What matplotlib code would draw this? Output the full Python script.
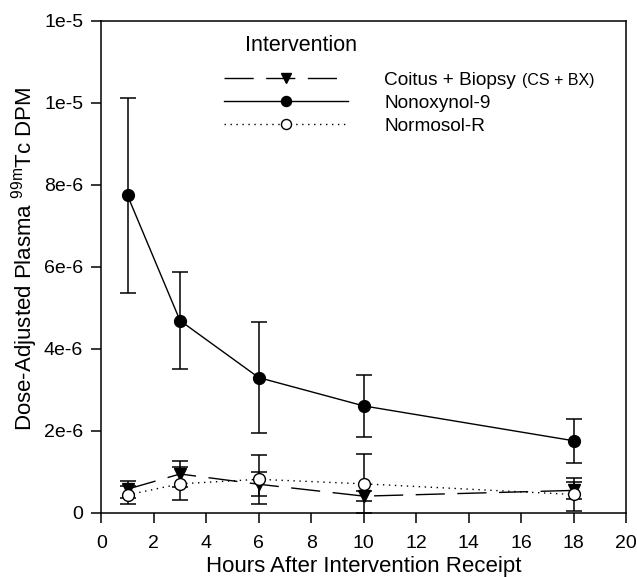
import matplotlib
matplotlib.use("Agg")
import matplotlib.pyplot as plt

plt.rcParams["font.family"] = ["Liberation Sans", "DejaVu Sans"]

# data
hours = [1, 3, 6, 10, 18]

cs_bx = [0.58e-6, 0.95e-6, 0.70e-6, 0.41e-6, 0.55e-6]
cs_bx_err = [0.21e-6, 0.32e-6, 0.29e-6, 0.13e-6, 0.20e-6]

n9 = [7.74e-6, 4.69e-6, 3.30e-6, 2.61e-6, 1.76e-6]
n9_err = [2.37e-6, 1.18e-6, 1.36e-6, 0.76e-6, 0.53e-6]

normosol = [0.44e-6, 0.71e-6, 0.82e-6, 0.71e-6, 0.45e-6]
normosol_err = [0.21e-6, 0.40e-6, 0.59e-6, 0.72e-6, 0.40e-6]

series_labels = ["Coitus + Biopsy", "Nonoxynol-9", "Normosol-R"]

y_ticks = [0, 2e-6, 4e-6, 6e-6, 8e-6, 10e-6, 12e-6]
y_tick_labels = ["0", "2e-6", "4e-6", "6e-6", "8e-6", "1e-5", "1e-5"]
x_ticks = [0, 2, 4, 6, 8, 10, 12, 14, 16, 18, 20]

fig = plt.figure(figsize=(6.37, 5.77), dpi=100)
ax = fig.add_axes([0.159, 0.111, 0.824, 0.853])

common = dict(color="black", linewidth=1.0, capsize=5.5, elinewidth=1.1,
              capthick=1.1, markersize=8.5)

e1 = ax.errorbar(hours, cs_bx, yerr=cs_bx_err, marker="v", linestyle=(0, (21, 9)),
                 markerfacecolor="black", label=series_labels[0], **common)
e2 = ax.errorbar(hours, n9, yerr=n9_err, marker="o", linestyle="-",
                 markerfacecolor="black", label=series_labels[1], **common)
e3 = ax.errorbar(hours, normosol, yerr=normosol_err, marker="o",
                 linestyle=(0, (1, 3.3)), markerfacecolor="white",
                 label=series_labels[2], **common)

ax.set_xlim(0, 20)
ax.set_ylim(0, 12e-6)
ax.set_xticks(x_ticks)
ax.set_yticks(y_ticks)
ax.set_yticklabels(y_tick_labels)
ax.tick_params(direction="out", length=7, width=1.1, labelsize=14, pad=6)
ax.tick_params(axis="x", pad=9)
for s in ax.spines.values():
    s.set_linewidth(1.1)

ax.set_xlabel("Hours After Intervention Receipt", fontsize=16, labelpad=3)
ax.set_ylabel(r"Dose-Adjusted Plasma $^{\mathregular{99m}}$Tc DPM", fontsize=16)
ax.yaxis.set_label_coords(-0.117, 0.516)

# legend: lines only (no error bars), title placed separately
handles = [e1[0], e2[0], e3[0]]
leg = ax.legend(handles, series_labels, frameon=False, loc="upper left",
                bbox_to_anchor=(0.22, 0.912), handlelength=6.5, markerscale=0.85,
                fontsize=13.7, labelspacing=0.3, handletextpad=1.9,
                borderaxespad=0)
fig.text(0.385, 0.922, "Intervention", fontsize=15.5, ha="left", va="center")

fig.canvas.draw()
bb = leg.get_texts()[0].get_window_extent()
fig.text((bb.x1 + 6) / fig.bbox.width, (bb.y0 + bb.y1) / 2 / fig.bbox.height,
         "(CS + BX)", fontsize=11.5, ha="left", va="center")

fig.savefig("out.png", dpi=100)
